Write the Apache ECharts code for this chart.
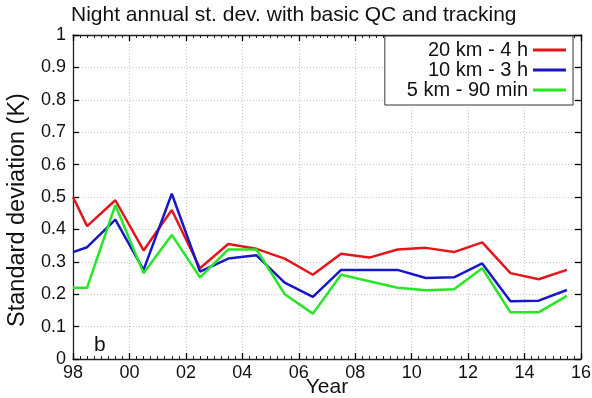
<!DOCTYPE html>
<html>
<head>
<meta charset="utf-8">
<script src="https://cdn.jsdelivr.net/npm/echarts@6/dist/echarts.min.js"></script>
<style>
html,body{margin:0;padding:0;background:#fff;}
#chart{width:592px;height:398px;}
</style>
</head>
<body>
<div id="chart"></div>
<script>
const years = [1998.0, 1998.5, 1999.5, 2000.5, 2001.5, 2002.5, 2003.5, 2004.5, 2005.5, 2006.5, 2007.5, 2008.5, 2009.5, 2010.5, 2011.5, 2012.5, 2013.5, 2014.5, 2015.5];
const red20km4h   = [0.50, 0.41, 0.49, 0.335, 0.46, 0.28, 0.355, 0.34, 0.31, 0.26, 0.325, 0.313, 0.338, 0.343, 0.33, 0.36, 0.265, 0.246, 0.275];
const blue10km3h  = [0.33, 0.345, 0.43, 0.275, 0.51, 0.27, 0.31, 0.32, 0.236, 0.192, 0.275, 0.275, 0.275, 0.25, 0.252, 0.295, 0.178, 0.18, 0.213];
const green5km90m = [0.22, 0.22, 0.475, 0.265, 0.383, 0.252, 0.338, 0.338, 0.2, 0.14, 0.26, 0.24, 0.22, 0.212, 0.215, 0.28, 0.144, 0.144, 0.195];
const seriesNames = ['20 km - 4 h', '10 km - 3 h', '5 km - 90 min'];
const xTickLabels = ['98', '00', '02', '04', '06', '08', '10', '12', '14', '16'];
const yTickLabels = ['0', '0.1', '0.2', '0.3', '0.4', '0.5', '0.6', '0.7', '0.8', '0.9', '1'];
const yAxisTitle = 'Standard deviation (K)';

const FONT = 'Liberation Sans';
const axisLineStyle = () => ({color: '#222', width: 1.3});
const tickStyle = () => ({show: true, inside: true, length: 6, lineStyle: {color: '#000', width: 1.3}});
const minorTickStyle = () => ({show: true, splitNumber: 8, length: 3, lineStyle: {color: '#222', width: 1}});
const gridLine = () => ({show: true, lineStyle: {color: '#c8c8c8', type: [1, 2], width: 1}});

function pair(xs, ys) { return xs.map((x, i) => [x, ys[i]]); }

const chart = echarts.init(document.getElementById('chart'));
chart.setOption({
  animation: false,
  backgroundColor: '#fff',
  textStyle: {fontFamily: FONT},
  title: {
    text: 'Night annual st. dev. with basic QC and tracking',
    left: 66, top: 0,
    textStyle: {fontFamily: FONT, fontSize: 21, fontWeight: 'normal', color: '#111'}
  },
  grid: {left: 73, right: 11, top: 35, bottom: 39, outerBoundsMode: 'none', containLabel: false},
  legend: {
    data: seriesNames,
    orient: 'vertical',
    align: 'right',
    right: 19, top: 36,
    itemWidth: 33, itemHeight: 3,
    itemGap: 0,
    padding: [4, 7, 5, 22],
    borderColor: '#333', borderWidth: 1,
    backgroundColor: '#fff',
    icon: 'rect',
    textStyle: {fontFamily: FONT, fontSize: 20, color: '#111', padding: [0, 0, 0, 0]}
  },
  xAxis: [{
    type: 'value', min: 1998, max: 2016, interval: 2,
    name: 'Year', nameLocation: 'middle', nameGap: 18, nameMoveOverlap: false,
    nameTextStyle: {fontFamily: FONT, fontSize: 21, color: '#111'},
    axisLine: {show: true, onZero: false, lineStyle: axisLineStyle()},
    axisTick: tickStyle(), minorTick: minorTickStyle(),
    splitLine: gridLine(),
    axisLabel: {
      fontFamily: FONT, fontSize: 18, color: '#111', margin: 5,
      formatter: v => xTickLabels[Math.round((v - 1998) / 2)]
    }
  }, {
    type: 'value', min: 1998, max: 2016, interval: 2, position: 'top',
    axisLine: {show: true, onZero: false, lineStyle: axisLineStyle()},
    axisTick: tickStyle(), minorTick: minorTickStyle(),
    splitLine: {show: false}, axisLabel: {show: false}
  }],
  yAxis: [{
    type: 'value', min: 0, max: 1, interval: 0.1,
    axisLine: {show: true, onZero: false, lineStyle: axisLineStyle()},
    axisTick: tickStyle(),
    splitLine: gridLine(),
    axisLabel: {
      fontFamily: FONT, fontSize: 18, color: '#111', margin: 7,
      formatter: v => yTickLabels[Math.round(v * 10)]
    }
  }, {
    type: 'value', min: 0, max: 1, interval: 0.1, position: 'right',
    axisLine: {show: true, onZero: false, lineStyle: axisLineStyle()},
    axisTick: tickStyle(),
    splitLine: {show: false}, axisLabel: {show: false}
  }],
  graphic: [{
    type: 'text', x: 18, y: 210, rotation: Math.PI / 2,
    style: {text: yAxisTitle, fontFamily: FONT, fontSize: 23.5, fill: '#111', align: 'center', verticalAlign: 'middle'}
  }, {
    type: 'text', left: 94, top: 335,
    style: {text: 'b', fontFamily: FONT, fontSize: 21, fill: '#111'}
  }],
  series: [
    {name: seriesNames[0], type: 'line', data: pair(years, red20km4h), showSymbol: false, symbol: 'none',
     lineStyle: {color: '#e4161b', width: 2.5}, itemStyle: {color: '#e4161b'}},
    {name: seriesNames[1], type: 'line', data: pair(years, blue10km3h), showSymbol: false, symbol: 'none',
     lineStyle: {color: '#1717c8', width: 2.5}, itemStyle: {color: '#1717c8'}},
    {name: seriesNames[2], type: 'line', data: pair(years, green5km90m), showSymbol: false, symbol: 'none',
     lineStyle: {color: '#26e626', width: 2.5}, itemStyle: {color: '#26e626'}}
  ]
});
</script>
</body>
</html>
